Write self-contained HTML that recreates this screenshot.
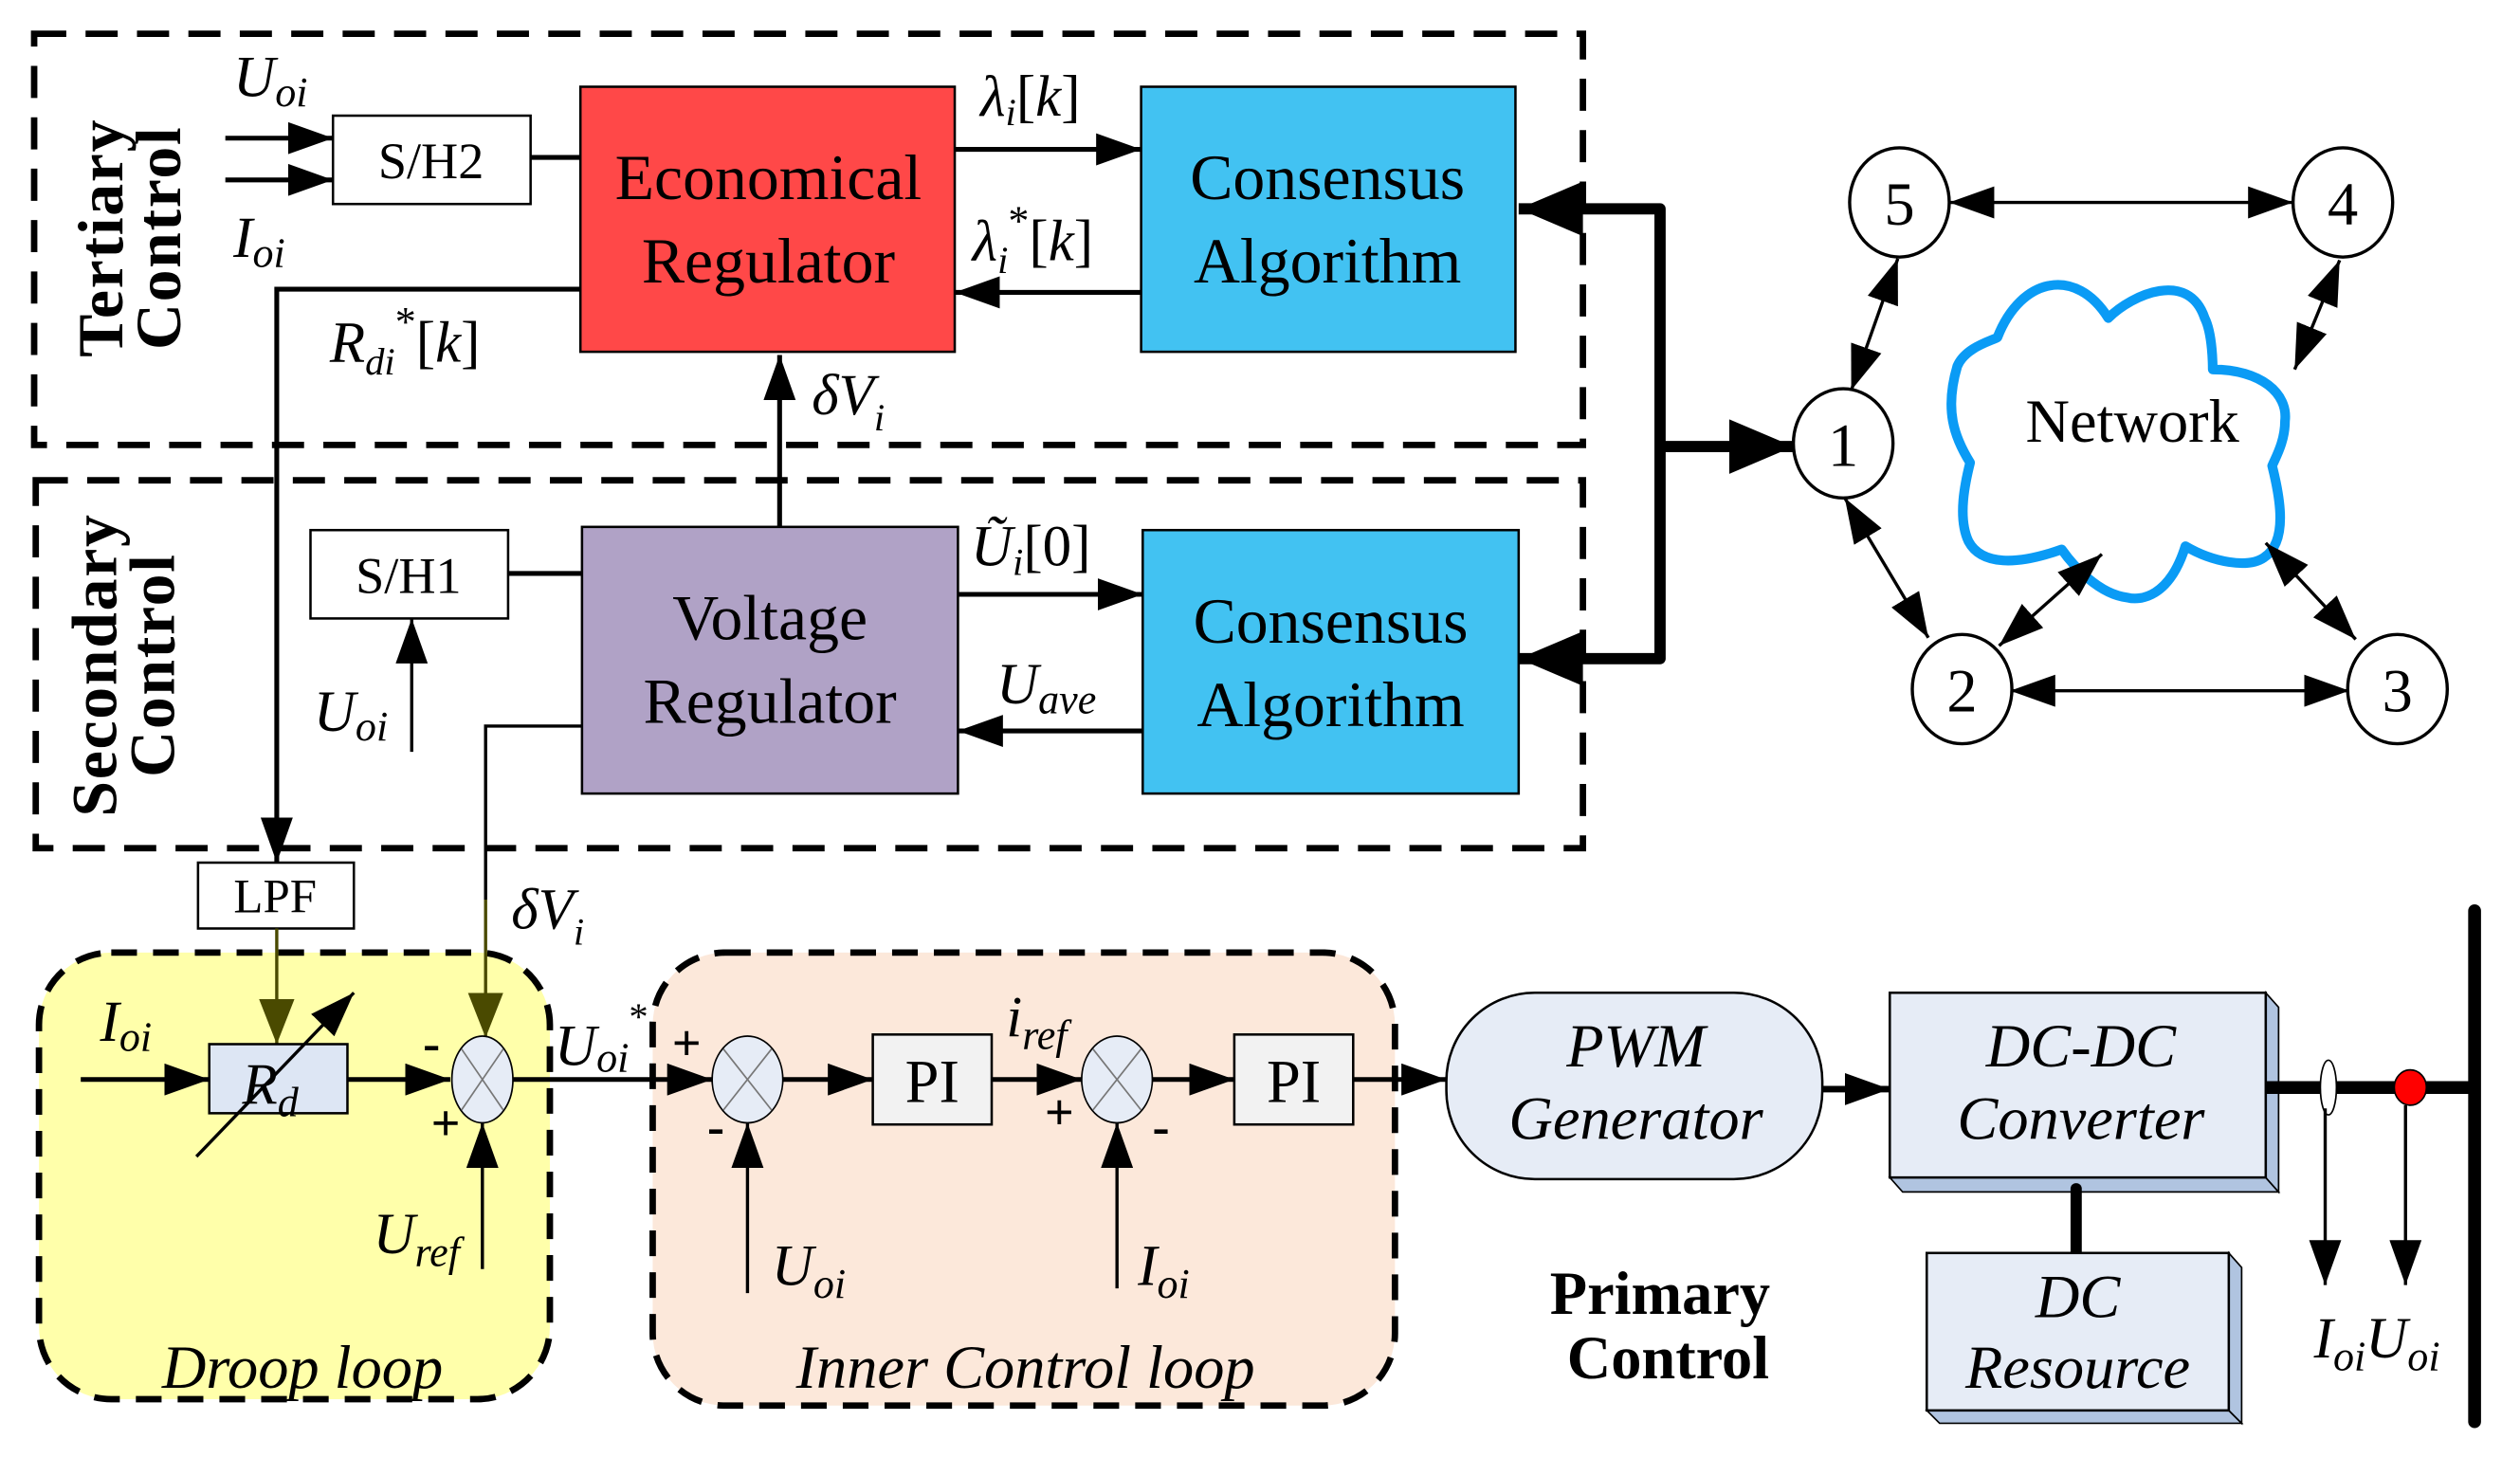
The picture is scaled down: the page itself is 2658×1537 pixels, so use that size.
<!DOCTYPE html>
<html><head><meta charset="utf-8"><style>
html,body{margin:0;padding:0;background:#fff}
svg{display:block}
text{font-family:"Liberation Serif",serif}
.it{font-style:italic}
</style></head><body>
<svg width="2658" height="1537" viewBox="0 0 1568 907" xmlns="http://www.w3.org/2000/svg">
<defs>
<marker id="as" markerUnits="userSpaceOnUse" markerWidth="28" markerHeight="20" viewBox="0 0 28 20" refX="28" refY="10" orient="auto-start-reverse"><path d="M0,0 L28,10 L0,20 Z" fill="#000"/></marker>
<marker id="ao" markerUnits="userSpaceOnUse" markerWidth="28" markerHeight="24" viewBox="0 0 28 24" refX="28" refY="12" orient="auto"><path d="M0,1 L28,12 L0,23 Z" fill="#4a4a00"/></marker>
<marker id="ab" markerUnits="userSpaceOnUse" markerWidth="40" markerHeight="34" viewBox="0 0 40 34" refX="40" refY="17" orient="auto"><path d="M0,0 L40,17 L0,34 Z" fill="#000"/></marker>
</defs>

<rect x="21" y="21" width="964" height="256" fill="none" stroke="#000" stroke-width="4" stroke-dasharray="20,12"/>
<rect x="22" y="299" width="963" height="229" fill="none" stroke="#000" stroke-width="4" stroke-dasharray="20,12"/>

<text transform="translate(80,148) rotate(-90)" text-anchor="middle" font-size="40" font-weight="bold" letter-spacing="1"><tspan x="0" y="-4">Tertiary</tspan><tspan x="0" y="32">Control</tspan></text>
<text transform="translate(76,414) rotate(-90)" text-anchor="middle" font-size="40" font-weight="bold" letter-spacing="1"><tspan x="0" y="-4">Secondary</tspan><tspan x="0" y="32">Control</tspan></text>

<rect x="207" y="72" width="123" height="55" fill="#fff" stroke="#000" stroke-width="1.5"/>
<text x="268" y="111" font-size="32" text-anchor="middle">S/H2</text>
<line x1="140" y1="86" x2="207" y2="86" stroke="#000" stroke-width="3" marker-end="url(#as)"/>
<line x1="140" y1="112" x2="207" y2="112" stroke="#000" stroke-width="3" marker-end="url(#as)"/>
<text x="145" y="60" font-size="36" class="it">U<tspan font-size="26" dy="6">oi</tspan></text>
<text x="145" y="160" font-size="36" class="it">I<tspan font-size="26" dy="6">oi</tspan></text>
<line x1="330" y1="98" x2="361" y2="98" stroke="#000" stroke-width="3"/>

<rect x="361" y="54" width="233" height="165" fill="#FF4848" stroke="#000" stroke-width="1.5"/>
<text x="478" y="124" font-size="40" text-anchor="middle">Economical</text>
<text x="478" y="176" font-size="40" text-anchor="middle">Regulator</text>
<rect x="710" y="54" width="233" height="165" fill="#42C2F2" stroke="#000" stroke-width="1.5"/>
<text x="826" y="124" font-size="40" text-anchor="middle">Consensus</text>
<text x="826" y="176" font-size="40" text-anchor="middle">Algorithm</text>

<line x1="594" y1="93" x2="710" y2="93" stroke="#000" stroke-width="3" marker-end="url(#as)"/>
<text x="610" y="72" font-size="36" class="it">λ<tspan font-size="24" dy="6">i</tspan><tspan dy="-6" font-style="normal">[</tspan>k<tspan font-style="normal">]</tspan></text>
<line x1="710" y1="182" x2="594" y2="182" stroke="#000" stroke-width="3" marker-end="url(#as)"/>
<text x="605" y="162" font-size="36" class="it">λ<tspan font-size="24" dy="8">i</tspan><tspan font-size="26" dy="-24" font-style="normal">*</tspan><tspan dy="16" font-style="normal">[</tspan>k<tspan font-style="normal">]</tspan></text>

<polyline points="361,180 172,180 172,537" fill="none" stroke="#000" stroke-width="3" marker-end="url(#as)"/>
<text x="205" y="225" font-size="36" class="it">R<tspan font-size="24" dy="8">di</tspan><tspan font-size="26" dy="-24" font-style="normal">*</tspan><tspan dy="16" font-style="normal">[</tspan>k<tspan font-style="normal">]</tspan></text>

<line x1="485" y1="328" x2="485" y2="221" stroke="#000" stroke-width="3" marker-end="url(#as)"/>
<text x="505" y="258" font-size="36" class="it">δV<tspan font-size="24" dy="10">i</tspan></text>

<rect x="193" y="330" width="123" height="55" fill="#fff" stroke="#000" stroke-width="1.5"/>
<text x="254" y="369" font-size="32" text-anchor="middle">S/H1</text>
<line x1="316" y1="357" x2="362" y2="357" stroke="#000" stroke-width="3"/>
<line x1="256" y1="468" x2="256" y2="385" stroke="#000" stroke-width="2" marker-end="url(#as)"/>
<text x="195" y="455" font-size="36" class="it">U<tspan font-size="26" dy="6">oi</tspan></text>

<rect x="362" y="328" width="234" height="166" fill="#B0A2C6" stroke="#000" stroke-width="1.5"/>
<text x="479" y="398" font-size="40" text-anchor="middle">Voltage</text>
<text x="479" y="450" font-size="40" text-anchor="middle">Regulator</text>
<rect x="711" y="330" width="234" height="164" fill="#42C2F2" stroke="#000" stroke-width="1.5"/>
<text x="828" y="400" font-size="40" text-anchor="middle">Consensus</text>
<text x="828" y="452" font-size="40" text-anchor="middle">Algorithm</text>

<line x1="596" y1="370" x2="711" y2="370" stroke="#000" stroke-width="3" marker-end="url(#as)"/>
<text x="604" y="352" font-size="36" class="it">Ũ<tspan font-size="24" dy="6">i</tspan><tspan dy="-6" font-style="normal">[0]</tspan></text>
<line x1="711" y1="455" x2="596" y2="455" stroke="#000" stroke-width="3" marker-end="url(#as)"/>
<text x="620" y="438" font-size="36" class="it">U<tspan font-size="26" dy="6">ave</tspan></text>

<polyline points="362,452 302,452 302,560" fill="none" stroke="#000" stroke-width="2"/>

<polyline points="945,130 1033,130 1033,410 945,410" fill="none" stroke="#000" stroke-width="7" stroke-linejoin="round"/>
<path d="M945,130 L985,113 L985,147 Z" fill="#000"/>
<path d="M945,410 L985,393 L985,427 Z" fill="#000"/>
<line x1="1033" y1="278" x2="1116" y2="278" stroke="#000" stroke-width="7" marker-end="url(#ab)"/>

<path d="M1243,210 C1258,172 1292,166 1312,198 C1327,183 1362,168 1372,198 C1377,208 1377,228 1377,230 C1407,230 1424,245 1422,262 C1422,275 1416,285 1414,290 C1419,310 1424,337 1409,347 C1399,354 1377,350 1360,340 C1350,372 1332,374 1324,372 C1306,370 1290,352 1283,342 C1255,352 1233,352 1225,337 C1218,322 1223,300 1226,288 C1216,272 1210,255 1218,228 C1223,216 1240,212 1243,210 Z" fill="#fff" stroke="#0A9BF5" stroke-width="6" stroke-linejoin="round"/>
<text x="1327" y="275" font-size="38" text-anchor="middle">Network</text>

<g stroke="#000" stroke-width="2" fill="#fff">
<line x1="1213" y1="126" x2="1427" y2="126" marker-start="url(#as)" marker-end="url(#as)"/>
<line x1="1152" y1="243" x2="1181" y2="161" marker-start="url(#as)" marker-end="url(#as)"/>
<line x1="1428" y1="230" x2="1456" y2="162" marker-start="url(#as)" marker-end="url(#as)"/>
<line x1="1148" y1="310" x2="1200" y2="397" marker-start="url(#as)" marker-end="url(#as)"/>
<line x1="1244" y1="402" x2="1308" y2="345" marker-start="url(#as)" marker-end="url(#as)"/>
<line x1="1410" y1="338" x2="1466" y2="398" marker-start="url(#as)" marker-end="url(#as)"/>
<line x1="1251" y1="430" x2="1462" y2="430" marker-start="url(#as)" marker-end="url(#as)"/>
<ellipse cx="1182" cy="126" rx="31" ry="34"/>
<ellipse cx="1458" cy="126" rx="31" ry="34"/>
<ellipse cx="1147" cy="276" rx="31" ry="34"/>
<ellipse cx="1221" cy="429" rx="31" ry="34"/>
<ellipse cx="1492" cy="429" rx="31" ry="34"/>
</g>
<g font-size="38" text-anchor="middle">
<text x="1182" y="140">5</text><text x="1458" y="140">4</text><text x="1147" y="290">1</text><text x="1221" y="443">2</text><text x="1492" y="443">3</text>
</g>

<rect x="24" y="593" width="318" height="278" rx="45" fill="#FFFFAA" stroke="#000" stroke-width="4" stroke-dasharray="16,10"/>
<rect x="406" y="593" width="462" height="282" rx="45" fill="#FCE8DA" stroke="#000" stroke-width="4" stroke-dasharray="16,10"/>
<text x="188" y="864" font-size="38" class="it" text-anchor="middle">Droop loop</text>
<text x="638" y="864" font-size="38" class="it" text-anchor="middle">Inner Control loop</text>

<line x1="302" y1="560" x2="302" y2="646" stroke="#4a4a00" stroke-width="2" marker-end="url(#ao)"/>
<text x="318" y="578" font-size="36" class="it">δV<tspan font-size="24" dy="10">i</tspan></text>

<rect x="123" y="537" width="97" height="41" fill="#fff" stroke="#000" stroke-width="1.5"/>
<text x="171" y="568" font-size="30" text-anchor="middle">LPF</text>
<line x1="172" y1="578" x2="172" y2="650" stroke="#4a4a00" stroke-width="2" marker-end="url(#ao)"/>

<line x1="50" y1="672" x2="130" y2="672" stroke="#000" stroke-width="3" marker-end="url(#as)"/>
<text x="62" y="648" font-size="36" class="it">I<tspan font-size="26" dy="6">oi</tspan></text>
<rect x="130" y="650" width="86" height="43" fill="#DDE6F4" stroke="#000" stroke-width="1.5"/>
<text x="168" y="687" font-size="36" class="it" text-anchor="middle">R<tspan font-size="26" dy="8">d</tspan></text>
<line x1="122" y1="720" x2="220" y2="618" stroke="#000" stroke-width="2" marker-end="url(#as)"/>
<line x1="216" y1="672" x2="280" y2="672" stroke="#000" stroke-width="3" marker-end="url(#as)"/>

<g stroke="#000" stroke-width="1" fill="#E6ECF6">
<ellipse cx="300" cy="672" rx="19" ry="27"/>
<ellipse cx="465" cy="672" rx="22" ry="27"/>
<ellipse cx="695" cy="672" rx="22" ry="27"/>
</g>
<g stroke="#777" stroke-width="1">
<line x1="287" y1="653" x2="313" y2="691"/><line x1="313" y1="653" x2="287" y2="691"/>
<line x1="450" y1="653" x2="480" y2="691"/><line x1="480" y1="653" x2="450" y2="691"/>
<line x1="680" y1="653" x2="710" y2="691"/><line x1="710" y1="653" x2="680" y2="691"/>
</g>
<g font-size="32" font-weight="bold">
<text x="263" y="660">-</text><text x="268" y="710">+</text>
<text x="418" y="660">+</text><text x="440" y="712">-</text>
<text x="650" y="703">+</text><text x="717" y="712">-</text>
</g>
<line x1="300" y1="790" x2="300" y2="699" stroke="#000" stroke-width="2" marker-end="url(#as)"/>
<text x="232" y="780" font-size="36" class="it">U<tspan font-size="26" dy="8">ref</tspan></text>

<line x1="319" y1="672" x2="443" y2="672" stroke="#000" stroke-width="3" marker-end="url(#as)"/>
<text x="345" y="663" font-size="36" class="it">U<tspan font-size="26" dy="4">oi</tspan><tspan font-size="24" dy="-26" font-style="normal">*</tspan></text>

<line x1="465" y1="805" x2="465" y2="699" stroke="#000" stroke-width="2" marker-end="url(#as)"/>
<text x="480" y="800" font-size="36" class="it">U<tspan font-size="26" dy="8">oi</tspan></text>
<line x1="487" y1="672" x2="543" y2="672" stroke="#000" stroke-width="3" marker-end="url(#as)"/>
<rect x="543" y="644" width="74" height="56" fill="#F2F2F2" stroke="#000" stroke-width="1.5"/>
<text x="580" y="686" font-size="38" text-anchor="middle">PI</text>
<line x1="617" y1="672" x2="673" y2="672" stroke="#000" stroke-width="3" marker-end="url(#as)"/>
<text x="626" y="645" font-size="36" class="it">i<tspan font-size="26" dy="8">ref</tspan></text>
<line x1="695" y1="802" x2="695" y2="699" stroke="#000" stroke-width="2" marker-end="url(#as)"/>
<text x="708" y="800" font-size="36" class="it">I<tspan font-size="26" dy="8">oi</tspan></text>
<line x1="717" y1="672" x2="768" y2="672" stroke="#000" stroke-width="3" marker-end="url(#as)"/>
<rect x="768" y="644" width="74" height="56" fill="#F2F2F2" stroke="#000" stroke-width="1.5"/>
<text x="805" y="686" font-size="38" text-anchor="middle">PI</text>
<line x1="842" y1="672" x2="900" y2="672" stroke="#000" stroke-width="3" marker-end="url(#as)"/>

<rect x="900" y="618" width="234" height="116" rx="55" fill="#E6ECF6" stroke="#000" stroke-width="1.5"/>
<text x="1018" y="664" font-size="38" class="it" text-anchor="middle">PWM</text>
<text x="1018" y="709" font-size="38" class="it" text-anchor="middle">Generator</text>
<line x1="1134" y1="678" x2="1176" y2="678" stroke="#000" stroke-width="4" marker-end="url(#as)"/>

<polygon points="1176,733 1410,733 1418,742 1184,742" fill="#B0C4E0" stroke="#000" stroke-width="1"/>
<polygon points="1410,618 1418,627 1418,742 1410,733" fill="#B0C4E0" stroke="#000" stroke-width="1"/>
<rect x="1176" y="618" width="234" height="115" fill="#E6ECF6" stroke="#000" stroke-width="1.5"/>
<text x="1295" y="664" font-size="38" class="it" text-anchor="middle">DC-DC</text>
<text x="1295" y="709" font-size="38" class="it" text-anchor="middle">Converter</text>

<line x1="1292" y1="740" x2="1292" y2="780" stroke="#000" stroke-width="7" stroke-linecap="round"/>
<polygon points="1199,878 1387,878 1395,886 1207,886" fill="#B0C4E0" stroke="#000" stroke-width="1"/>
<polygon points="1387,780 1395,789 1395,886 1387,878" fill="#B0C4E0" stroke="#000" stroke-width="1"/>
<rect x="1199" y="780" width="188" height="98" fill="#E6ECF6" stroke="#000" stroke-width="1.5"/>
<text x="1293" y="820" font-size="38" class="it" text-anchor="middle">DC</text>
<text x="1293" y="864" font-size="38" class="it" text-anchor="middle">Resource</text>

<text x="1033" y="818" font-size="38" font-weight="bold" text-anchor="middle">Primary</text>
<text x="1038" y="858" font-size="38" font-weight="bold" text-anchor="middle">Control</text>

<line x1="1410" y1="677" x2="1540" y2="677" stroke="#000" stroke-width="8"/>
<line x1="1540" y1="567" x2="1540" y2="885" stroke="#000" stroke-width="8" stroke-linecap="round"/>
<ellipse cx="1449" cy="677" rx="5" ry="17" fill="#fff" stroke="#000" stroke-width="1"/>
<ellipse cx="1500" cy="677" rx="10" ry="11" fill="#f00" stroke="#000" stroke-width="1"/>
<line x1="1447" y1="690" x2="1447" y2="800" stroke="#000" stroke-width="2" marker-end="url(#as)"/>
<line x1="1497" y1="688" x2="1497" y2="800" stroke="#000" stroke-width="2" marker-end="url(#as)"/>
<text x="1440" y="845" font-size="36" class="it">I<tspan font-size="26" dy="8">oi</tspan><tspan dy="-8">U</tspan><tspan font-size="26" dy="8">oi</tspan></text>
</svg>
</body></html>
